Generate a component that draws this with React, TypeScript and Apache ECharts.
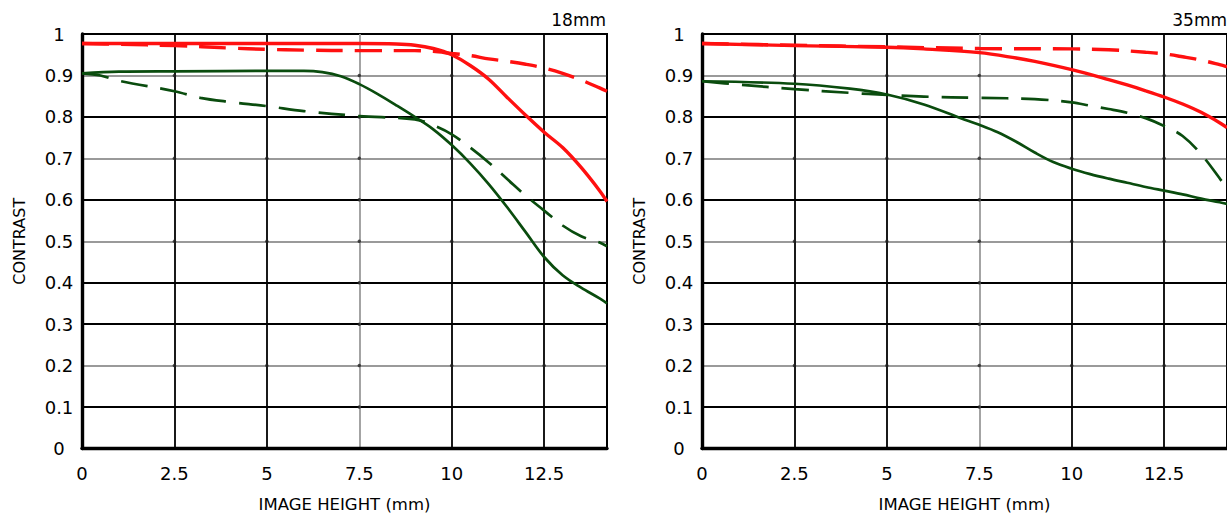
import React, { useEffect, useRef } from "react";
import * as echarts from "echarts";

// Axis ticks
const xTickStep = 2.5;
const xMax = 14.2;
const yTickStep = 0.1;
const xTicks = [0, 2.5, 5, 7.5, 10, 12.5, 14.2];
const yTicks = [0, 0.1, 0.2, 0.3, 0.4, 0.5, 0.6, 0.7, 0.8, 0.9, 1];
const grayX = [7.5];
const grayY = [0.2, 0.5, 0.7, 0.9];
const panelTitles = ["18mm", "35mm"];

// ---- 18mm panel ----
const x18RedSolid = [0, 2.5, 5, 7.5, 8.5, 9, 9.5, 10, 10.5, 11, 11.5, 12, 12.5, 13, 13.5, 14, 14.2];
const y18RedSolid = [0.977, 0.977, 0.977, 0.977, 0.976, 0.973, 0.965, 0.95, 0.924, 0.891, 0.847, 0.804, 0.763, 0.726, 0.678, 0.622, 0.596];

const x18RedDash = [0, 1, 2.5, 4, 5, 6, 7.5, 9, 9.5, 10, 10.5, 11, 11.5, 12, 12.5, 13, 13.5, 14, 14.2];
const y18RedDash = [0.977, 0.975, 0.972, 0.966, 0.963, 0.961, 0.96, 0.96, 0.958, 0.953, 0.948, 0.94, 0.934, 0.927, 0.918, 0.905, 0.889, 0.87, 0.862];

const x18GreenSolid = [0, 1, 2.5, 5, 6, 6.5, 7, 7.5, 8, 8.5, 9, 9.5, 10, 10.5, 11, 11.5, 12, 12.5, 13, 13.5, 14, 14.2];
const y18GreenSolid = [0.905, 0.909, 0.91, 0.911, 0.911, 0.908, 0.898, 0.879, 0.855, 0.828, 0.8, 0.77, 0.732, 0.688, 0.638, 0.582, 0.522, 0.462, 0.418, 0.388, 0.362, 0.35];

const x18GreenDash = [0, 0.5, 1, 2.5, 3.2, 4, 5, 6, 7.5, 9, 9.5, 10, 10.5, 11, 11.5, 12, 12.5, 13, 13.5, 14, 14.2];
const y18GreenDash = [0.905, 0.9, 0.887, 0.862, 0.846, 0.836, 0.826, 0.814, 0.802, 0.794, 0.78, 0.758, 0.726, 0.69, 0.65, 0.61, 0.574, 0.538, 0.512, 0.497, 0.488];

// ---- 35mm panel ----
const x35RedSolid = [0, 2.5, 5, 6, 7.5, 8.5, 9, 10, 11, 11.5, 12, 12.5, 13, 13.5, 14, 14.2];
const y35RedSolid = [0.977, 0.972, 0.968, 0.964, 0.955, 0.942, 0.934, 0.914, 0.89, 0.877, 0.863, 0.848, 0.831, 0.811, 0.786, 0.774];

const x35RedDash = [0, 2.5, 5, 7.5, 10, 11, 12, 12.5, 13, 13.5, 14, 14.2];
const y35RedDash = [0.977, 0.973, 0.969, 0.965, 0.964, 0.962, 0.956, 0.952, 0.945, 0.937, 0.926, 0.921];

const x35GreenSolid = [0, 2.5, 4, 5, 6, 7, 7.5, 8, 8.5, 9, 9.5, 10, 10.5, 11, 11.5, 12, 12.5, 13, 13.5, 14, 14.2];
const y35GreenSolid = [0.886, 0.88, 0.868, 0.854, 0.83, 0.797, 0.781, 0.763, 0.74, 0.714, 0.691, 0.675, 0.662, 0.651, 0.641, 0.631, 0.622, 0.613, 0.603, 0.594, 0.59];

const x35GreenDash = [0, 1, 2.5, 4, 5, 6, 7.5, 9, 10, 10.5, 11, 11.5, 12, 12.5, 13, 13.5, 14, 14.2];
const y35GreenDash = [0.886, 0.878, 0.867, 0.858, 0.853, 0.849, 0.846, 0.843, 0.835, 0.827, 0.819, 0.81, 0.797, 0.778, 0.754, 0.71, 0.652, 0.626];

const RED = "#ff1010";
const GREEN = "#0a4c0e";
const BLACK = "#000000";
const GRAY = "#9a9a9a";
const FONT = "DejaVu Sans";

const zip = (xs: number[], ys: number[]) => xs.map((x, i) => [x, ys[i]]);

export default function App() {
  const ref = useRef<HTMLDivElement | null>(null);

  useEffect(() => {
    if (!ref.current) return;
    const chart = echarts.init(ref.current, undefined, { renderer: "svg" });

    const grids = [
      { left: 82, top: 34, width: 525, height: 417 },
      { left: 702, top: 34, width: 525, height: 417 },
    ];

    const xColors = xTicks.map((v) => (grayX.includes(v) ? GRAY : BLACK));
    const yColors = yTicks.map((v) => (grayY.includes(v) ? GRAY : BLACK));

    // dots where a gray grid line crosses another grid line
    const dots: number[][] = [];
    xTicks.slice(0, -1).forEach((x) => {
      yTicks.slice(0, -1).forEach((y) => {
        if ((grayX.includes(x) || grayY.includes(y)) && x > 0 && y > 0) dots.push([x, y]);
      });
    });

    const mkX = (gi: number) => ({
      type: "value",
      gridIndex: gi,
      min: 0,
      max: xMax,
      interval: xTickStep,
      name: "IMAGE HEIGHT (mm)",
      nameLocation: "middle",
      nameGap: 56,
      nameTextStyle: { fontFamily: FONT, fontSize: 16.5, color: "#000", verticalAlign: "middle" },
      axisLine: { show: true, onZero: false, lineStyle: { color: BLACK, width: 3.4 } },
      axisTick: { show: false },
      axisLabel: {
        fontFamily: FONT,
        fontSize: 18,
        color: "#000",
        margin: 25,
        verticalAlign: "middle",
        showMaxLabel: false,
        formatter: (v: number) => {
          const k = v / xTickStep;
          return Math.abs(k - Math.round(k)) < 1e-6 ? String(v) : "";
        },
      },
      splitLine: { show: true, lineStyle: { color: xColors, width: 1.8 } },
    });

    const mkY = (gi: number) => ({
      type: "value",
      gridIndex: gi,
      min: 0,
      max: 1,
      interval: yTickStep,
      name: "CONTRAST",
      nameLocation: "middle",
      nameGap: 63,
      nameTextStyle: { fontFamily: FONT, fontSize: 16, color: "#000", verticalAlign: "middle" },
      axisLine: { show: true, onZero: false, lineStyle: { color: BLACK, width: 3.4 } },
      axisTick: { show: false },
      axisLabel: { fontFamily: FONT, fontSize: 18, color: "#000", margin: 23, align: "center" },
      splitLine: { show: true, lineStyle: { color: yColors, width: 1.8 } },
    });

    const line = (gi: number, data: number[][], color: string, width: number, dash: number[] | null) => ({
      type: "line",
      xAxisIndex: gi,
      yAxisIndex: gi,
      data,
      showSymbol: false,
      symbol: "none",
      smooth: 0.35,
      lineStyle: { color, width, type: dash ? dash : "solid" },
      z: 3,
    });

    const dotSeries = (gi: number) => ({
      type: "scatter",
      xAxisIndex: gi,
      yAxisIndex: gi,
      data: dots,
      symbol: "circle",
      symbolSize: 3.5,
      itemStyle: { color: "#222" },
      silent: true,
      z: 1,
    });

    const RD = [27, 12];
    const GD = [27, 13];

    chart.setOption({
      animation: false,
      backgroundColor: "#ffffff",
      title: [
        { text: panelTitles[0], right: 621, top: 11, padding: 0, textStyle: { fontFamily: FONT, fontSize: 17, fontWeight: "normal", color: "#000" } },
        { text: panelTitles[1], right: 0, top: 11, padding: 0, textStyle: { fontFamily: FONT, fontSize: 17, fontWeight: "normal", color: "#000" } },
      ],
      grid: grids.map((g) => ({ ...g, show: true, borderColor: BLACK, borderWidth: 2, backgroundColor: "transparent", containLabel: false })),
      xAxis: [mkX(0), mkX(1)],
      yAxis: [mkY(0), mkY(1)],
      series: [
        dotSeries(0),
        dotSeries(1),
        line(0, zip(x18GreenDash, y18GreenDash), GREEN, 2.7, GD),
        line(0, zip(x18GreenSolid, y18GreenSolid), GREEN, 2.7, null),
        line(0, zip(x18RedDash, y18RedDash), RED, 3.4, RD),
        line(0, zip(x18RedSolid, y18RedSolid), RED, 3.4, null),
        line(1, zip(x35GreenDash, y35GreenDash), GREEN, 2.7, GD),
        line(1, zip(x35GreenSolid, y35GreenSolid), GREEN, 2.7, null),
        line(1, zip(x35RedDash, y35RedDash), RED, 3.4, RD),
        line(1, zip(x35RedSolid, y35RedSolid), RED, 3.4, null),
      ],
    });

    return () => chart.dispose();
  }, []);

  return (
    <div
      ref={ref}
      style={{ position: "fixed", left: 0, top: 0, width: 1227, height: 518, background: "#fff" }}
    />
  );
}
